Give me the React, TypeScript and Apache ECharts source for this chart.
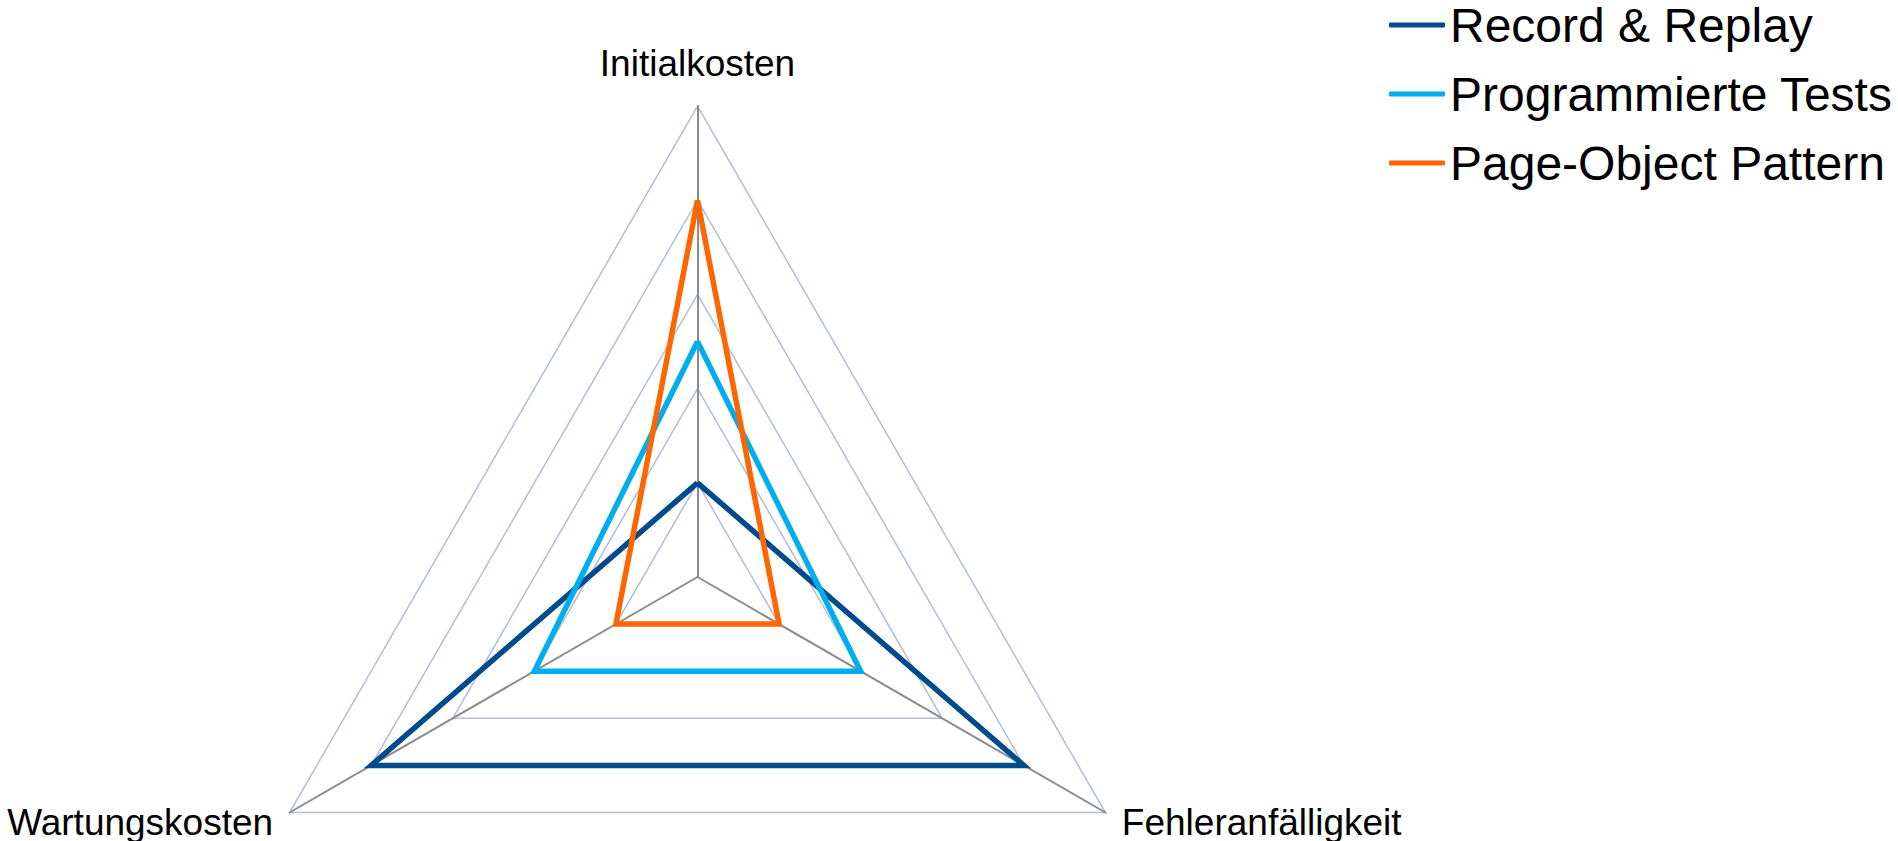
import React, { useEffect, useRef } from "react";
import * as echarts from "echarts";

const indicators = ["Initialkosten", "Wartungskosten", "Fehleranfälligkeit"];
const seriesNames = ["Record & Replay", "Programmierte Tests", "Page-Object Pattern"];
const recordReplay = [1, 4, 4];
const programmierteTests = [2.5, 2, 2];
const pageObject = [4, 1, 1];
const colors = ["#004b8d", "#00adef", "#ff6600"];
const maxValue = 5;

export default function App() {
  const ref = useRef<HTMLDivElement>(null);
  useEffect(() => {
    document.body.style.margin = "0";
    if (!ref.current) return;
    const chart = echarts.init(ref.current, undefined, { renderer: "svg" });
    const font = "'Liberation Sans', Arial, sans-serif";
    const values = [recordReplay, programmierteTests, pageObject];
    chart.setOption({
      animation: false,
      backgroundColor: "#ffffff",
      color: colors,
      legend: {
        orient: "vertical",
        left: 1389,
        top: 1,
        padding: 0,
        itemGap: 21,
        itemWidth: 56,
        itemHeight: 5,
        icon: "roundRect",
        textStyle: { fontSize: 48, color: "#000", fontFamily: font },
        data: seriesNames,
      },
      radar: {
        center: [697.5, 577],
        radius: 471,
        startAngle: 90,
        splitNumber: 5,
        shape: "polygon",
        nameGap: 19,
        axisName: { color: "#000", fontSize: 37, lineHeight: 48, fontFamily: font },
        indicator: indicators.map((name) => ({ name, min: 0, max: maxValue })),
        axisLine: { lineStyle: { color: "#8c8c8c", width: 2 } },
        splitLine: { lineStyle: { color: "#b3bdd5", width: 1.5 } },
        splitArea: { show: false },
      },
      series: seriesNames.map((name, i) => ({
        type: "radar",
        name,
        symbol: "none",
        lineStyle: { color: colors[i], width: 5, join: "miter", cap: "butt" },
        itemStyle: { color: colors[i] },
        data: [{ name, value: values[i], lineStyle: { width: 5.5, color: colors[i], join: "miter" } }],
      })),
    });
    return () => chart.dispose();
  }, []);
  return <div ref={ref} style={{ width: 1898, height: 841 }} />;
}
